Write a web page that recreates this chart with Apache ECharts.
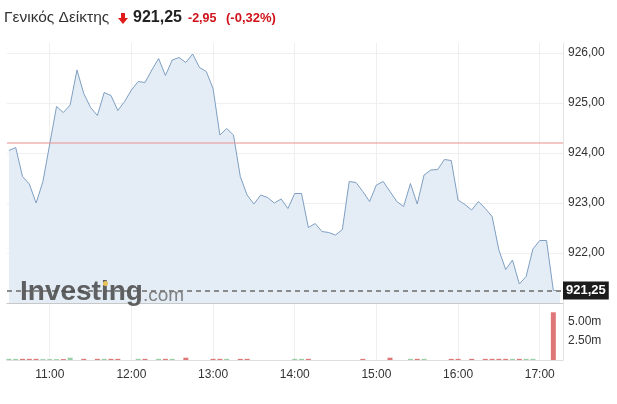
<!DOCTYPE html>
<html>
<head>
<meta charset="utf-8">
<script src="https://cdn.jsdelivr.net/npm/echarts@6/dist/echarts.min.js"></script>
<style>
html,body{margin:0;padding:0;background:#fff;}
#chart{width:617px;height:404px;}
</style>
</head>
<body>
<div id="chart"></div>
<script>
var times = ['10:30','10:35','10:40','10:45','10:50','10:55','11:00','11:05','11:10','11:15','11:20','11:25','11:30','11:35','11:40','11:45','11:50','11:55',
'12:00','12:05','12:10','12:15','12:20','12:25','12:30','12:35','12:40','12:45','12:50','12:55',
'13:00','13:05','13:10','13:15','13:20','13:25','13:30','13:35','13:40','13:45','13:50','13:55',
'14:00','14:05','14:10','14:15','14:20','14:25','14:30','14:35','14:40','14:45','14:50','14:55',
'15:00','15:05','15:10','15:15','15:20','15:25','15:30','15:35','15:40','15:45','15:50','15:55',
'16:00','16:05','16:10','16:15','16:20','16:25','16:30','16:35','16:40','16:45','16:50','16:55',
'17:00','17:05','17:10','17:15'];
var prices = [924.05,924.11,923.53,923.38,923.00,923.43,924.18,924.93,924.81,924.96,925.66,925.19,924.91,924.75,925.21,925.15,924.85,925.03,
925.26,925.43,925.41,925.66,925.89,925.55,925.86,925.91,925.81,925.98,925.71,925.63,
925.29,924.36,924.49,924.36,923.53,923.16,922.98,923.16,923.11,923.00,923.08,922.89,
923.19,923.19,922.51,922.59,922.43,922.41,922.36,922.47,923.43,923.41,923.23,923.03,
923.36,923.43,923.23,923.03,922.93,923.39,922.98,923.56,923.66,923.67,923.87,923.85,
923.06,922.97,922.86,923.03,922.89,922.73,922.06,921.67,921.86,921.38,921.53,922.08,
922.25,922.25,921.25,921.25];
var volumes = [0.15,0.15,0.15,0.15,0.15,0.12,0.12,0.12,0.12,0.3,0,0.15,0,0.15,0.15,0.15,0.15,0,
0,0.15,0.15,0,0.15,0.15,0.15,0,0.3,0,0,0,
0.15,0.15,0.15,0,0.15,0.15,0,0,0,0,0,0,
0.15,0.15,0.15,0,0,0,0,0,0,0,0.15,0,
0,0,0.3,0,0,0.15,0.15,0.15,0,0,0,0.15,
0.15,0,0.15,0,0.15,0.15,0.15,0.15,0.15,0.15,0.15,0.15,
0,0,6.28,0];
var xTickLabels = ['11:00','12:00','13:00','14:00','15:00','16:00','17:00'];
var yTickValues = [921,922,923,924,925,926];
var yTickLabels = [922,923,924,925,926];
var volTickLabels = [2.5,5];
var prevClose = 924.20;
var lastPrice = 921.25;
var titleName = 'Γενικός Δείκτης';
var titlePrice = '921,25';
var titleChange = '-2,95';
var titlePct = '(-0,32%)';

function toMin(s){var p=s.split(':');return (+p[0])*60+(+p[1]);}
function fmtTime(v){var h=Math.floor(v/60),m=Math.round(v%60);return h+':'+(m<10?'0':'')+m;}
var xTickValues = xTickLabels.map(toMin);
var xMin = toMin('10:30')-1.4, xMax = toMin('17:15')+2.1;

var lineData = times.map(function(t,i){return [toMin(t),prices[i]];});
var volData = times.map(function(t,i){
  var up = i===0 ? true : prices[i] >= prices[i-1];
  return {value:[toMin(t),volumes[i]], itemStyle:{color: up ? 'rgba(110,185,130,0.7)' : 'rgba(217,95,98,0.85)'}};
});

var FONT = 'Liberation Sans, Arial, sans-serif';
var chart = echarts.init(document.getElementById('chart'));
chart.setOption({
  animation:false,
  backgroundColor:'#ffffff',
  textStyle:{fontFamily:FONT},
  grid:[
    {left:7,right:54,top:43,height:260},
    {left:7,right:54,top:303,height:57}
  ],
  xAxis:[
    {type:'value',gridIndex:0,min:xMin,max:xMax,
     axisLine:{show:true,lineStyle:{color:'#c8c8c8',width:1}},
     axisTick:{show:false,customValues:xTickValues},
     axisLabel:{show:false,customValues:xTickValues},
     splitLine:{show:true,lineStyle:{color:'#efefef',width:1}}},
    {type:'value',gridIndex:1,min:xMin,max:xMax,
     axisLine:{show:true,lineStyle:{color:'#dddddd',width:1}},
     axisTick:{show:false,customValues:xTickValues},
     axisLabel:{show:true,customValues:xTickValues,formatter:function(v){return fmtTime(v);},
       color:'#333',fontSize:12,margin:9,fontFamily:FONT},
     splitLine:{show:true,lineStyle:{color:'#efefef',width:1}}}
  ],
  yAxis:[
    {type:'value',gridIndex:0,position:'right',min:921,max:926.2,
     axisLine:{show:true,lineStyle:{color:'#e3e3e3'}},
     axisTick:{show:false,customValues:yTickValues},
     axisLabel:{show:true,customValues:yTickLabels,formatter:function(v){return v.toFixed(2).replace('.',',');},
       color:'#333',fontSize:12,margin:5,fontFamily:FONT},
     splitLine:{show:true,lineStyle:{color:'#efefef',width:1}}},
    {type:'value',gridIndex:1,position:'right',min:0,max:7.5,
     axisLine:{show:true,lineStyle:{color:'#e3e3e3'}},
     axisTick:{show:false,customValues:volTickLabels},
     axisLabel:{show:true,customValues:volTickLabels,formatter:function(v){return v.toFixed(2)+'m';},
       color:'#333',fontSize:12,margin:5,fontFamily:FONT},
     splitLine:{show:false}}
  ],
  series:[
    {type:'line',xAxisIndex:0,yAxisIndex:0,data:lineData,symbol:'none',z:2,
     lineStyle:{color:'#7f9fc2',width:1},
     areaStyle:{color:'#e4edf6',opacity:1,origin:'start'},
     markLine:{silent:true,symbol:['none','none'],animation:false,
       lineStyle:{color:'#8a8a8a',width:2,type:[5,4]},
       data:[
         {yAxis:lastPrice,
          label:{show:true,position:'end',distance:0,formatter:titlePrice,
            backgroundColor:'#1c1c1c',color:'#fff',fontSize:13,fontWeight:'bold',
            padding:[3,3,2,3],fontFamily:FONT}}
       ]}
    },
    {type:'line',xAxisIndex:0,yAxisIndex:0,data:[[xMin,prevClose],[xMax,prevClose]],symbol:'none',z:3,
     silent:true,lineStyle:{color:'#e99090',width:1,type:'solid'},itemStyle:{color:'#e99090'}},
    {type:'bar',xAxisIndex:1,yAxisIndex:1,data:volData,barWidth:5}
  ],
  graphic:[
    {type:'text',left:4,top:10,style:{text:titleName,fill:'#333',font:'15.5px '+FONT}},
    {type:'polygon',shape:{points:[[121,13],[125,13],[125,18],[128,18],[123,24],[118,18],[121,18]]},style:{fill:'#e01b1b'}},
    {type:'text',left:133,top:10,style:{text:titlePrice,fill:'#222',font:'bold 16px '+FONT}},
    {type:'text',left:188,top:12,style:{text:titleChange,fill:'#d0131b',font:'bold 12.5px '+FONT}},
    {type:'text',left:226,top:12,style:{text:titlePct,fill:'#d0131b',font:'bold 13px '+FONT}},
    {type:'text',left:20,top:278,z:100,style:{text:'Investing',fill:'rgba(75,75,75,0.88)',font:'bold 28px '+FONT}},
    {type:'text',left:143,top:286,z:100,style:{text:'.com',fill:'rgba(110,110,110,0.85)',font:'19px '+FONT}},
    {type:'circle',z:101,shape:{cx:105.5,cy:283.5,r:2.5},style:{fill:'#e9c25a'}}
  ]
});
</script>
</body>
</html>
